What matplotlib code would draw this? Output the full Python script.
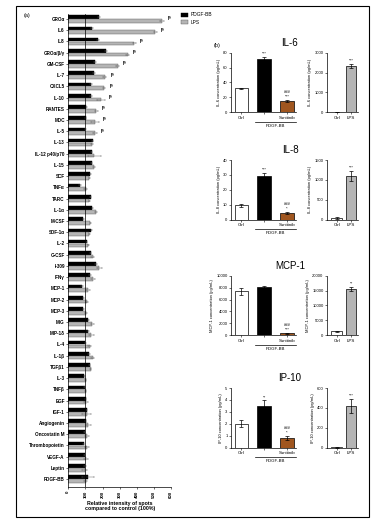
import matplotlib
matplotlib.use('Agg')

import matplotlib.pyplot as plt
import matplotlib.transforms as mtransforms
import numpy as np

plt.rcParams['font.family'] = ['Liberation Sans', 'DejaVu Sans']

# ---- panel (a) data ----
cytokines = ['GROα', 'IL6', 'IL8', 'GROα/β/γ', 'GM-CSF', 'IL-7', 'CXCL5', 'IL-10', 'RANTES', 'MDC',
             'IL-5', 'IL-13', 'IL-12 p40/p70', 'IL-15', 'SCF', 'TNFα', 'TARC', 'IL-1α', 'M-CSF', 'SDF-1α',
             'IL-2', 'G-CSF', 'I-309', 'IFNγ', 'MCP-1', 'MCP-2', 'MCP-3', 'MIG', 'MIP-1δ', 'IL-4',
             'IL-1β', 'TGFβ1', 'IL-3', 'TNFβ', 'EGF', 'IGF-1', 'Angiogenin', 'Oncostatin M', 'Thrombopoietin', 'VEGF-A',
             'Leptin', 'PDGF-BB']
pdgf_vals = [177, 139, 174, 222, 158, 150, 133, 134, 105, 101,
             99, 143, 137, 137, 128, 68, 132, 141, 88, 135,
             108, 130, 163, 126, 80, 86, 88, 118, 116, 99,
             122, 126, 93, 96, 103, 107, 103, 96, 90, 96,
             97, 114]
pdgf_err = [6, 8, 8, 5, 5, 5, 5, 5, 3, 3,
            3, 4, 4, 4, 3, 4, 3, 4, 3, 4,
            3, 5, 6, 4, 3, 3, 3, 4, 4, 3,
            4, 3, 3, 3, 3, 4, 3, 3, 3, 3,
            6, 34]
lps_vals = [548, 509, 386, 347, 288, 213, 209, 191, 164, 156,
            155, 138, 153, 150, 122, 101, 122, 160, 128, 122,
            117, 142, 180, 145, 116, 110, 106, 141, 135, 126,
            143, 130, 101, 101, 101, 107, 116, 110, 110, 103,
            97, 101]
lps_err = [10, 8, 10, 8, 8, 10, 8, 25, 10, 25,
           12, 5, 40, 8, 3, 8, 3, 6, 3, 3,
           3, 10, 15, 10, 10, 8, 6, 8, 15, 8,
           8, 5, 5, 5, 12, 25, 15, 10, 12, 12,
           15, 8]
n_marked = 11  # rows carrying the significance marks

# ---- panel (b) data ----
titles = ['IL-6', 'IL-8', 'MCP-1', 'IP-10']
groups = ['Ctrl', '', 'Sunitinib']
grp_vals = [[32, 71, 15], [9.5, 29.5, 4.5], [7400, 8100, 300], [2.0, 3.5, 0.8]]
grp_err = [[0.8, 3.5, 1.5], [0.8, 2.0, 0.6], [600, 150, 100], [0.3, 0.45, 0.18]]
grp_sig = [['', '***', '###\n***'], ['', '***', '###\n*'], ['', '', '###\n***'], ['', '**', '###\n*']]
lps_groups = ['Ctrl', 'LPS']
lps_vals_b = [[5, 2350], [40, 1100], [1300, 15500], [2, 420]]
lps_err_b = [[5, 100], [15, 130], [200, 800], [2, 70]]
lps_sig = [['', '***'], ['', '***'], ['', '**'], ['', '***']]
ylims = [80, 40, 10000, 5]
ysteps = [20, 10, 2000, 1]
lps_ylims = [3000, 1500, 20000, 600]
lps_ysteps = [1000, 500, 5000, 200]

W, H = 377, 522
fig = plt.figure(figsize=(W / 100, H / 100), dpi=100)


def rect(x0, y0, x1, y1):
    return [x0 / W, 1 - y1 / H, (x1 - x0) / W, (y1 - y0) / H]


# outer frame
fig.patches.append(plt.Rectangle((16 / W, 1 - 517 / H), 353 / W, 511 / H, transform=fig.transFigure,
                                 fill=False, lw=0.8, ec='black'))

# ---- panel (a) ----
ax = fig.add_axes(rect(68.3, 14, 171, 487))
y = np.arange(len(cytokines))
b1 = ax.barh(y - 0.17, pdgf_vals, height=0.33, color='black', edgecolor='black', lw=0.3,
             xerr=pdgf_err, error_kw=dict(lw=0.3, capsize=0.6, capthick=0.3, ecolor='#555'))
b2 = ax.barh(y + 0.17, lps_vals, height=0.33, color='#b5b5b5', edgecolor='#555555', lw=0.3,
             xerr=lps_err, error_kw=dict(lw=0.3, capsize=0.6, capthick=0.3, ecolor='#555'))
ax.axvline(100, color='black', lw=0.5)
for i in range(n_marked):
    xm = max(pdgf_vals[i] + pdgf_err[i], lps_vals[i] + lps_err[i]) + 22
    ax.text(xm, i - 0.05, '|§', fontsize=3.2, fontweight='bold', va='center', ha='left')
ax.set_yticks(y)
ax.set_yticklabels(cytokines, fontsize=3.3, fontweight='bold')
ax.set_ylim(41.7, -0.45)
ax.set_xlim(0, 600)
ax.set_xticks(range(0, 601, 100))
ax.set_xticklabels([str(v) for v in range(0, 601, 100)], rotation=90, fontsize=3.2, fontweight='bold')
ax.tick_params(length=1.5, width=0.4, pad=1)
for s in ['top', 'right']:
    ax.spines[s].set_visible(False)
for s in ['left', 'bottom']:
    ax.spines[s].set_linewidth(0.5)
ax.set_xlabel('Relative intensity of spots\ncompared to control (100%)', fontsize=3.8,
              fontweight='bold', labelpad=2, linespacing=1.2)

fig.legend([b1, b2], ['PDGF-BB', 'LPS'], loc='upper left', bbox_to_anchor=(179 / W, 1 - 10 / H),
           frameon=False, fontsize=3.5, handlelength=1.3, handleheight=0.8, labelspacing=0.5,
           handletextpad=0.5, borderpad=0)
fig.text(27 / W, 1 - 15 / H, '(a)', fontsize=4, va='center', ha='center')
fig.text(217 / W, 1 - 45 / H, '(b)', fontsize=4, va='center', ha='center')

# ---- panel (b) ----
row_tops = [52.7, 160, 275.7, 388]
colors3 = ['white', 'black', '#a0561f']
for r in range(4):
    top = row_tops[r]
    bot = top + 59.5
    fig.text(290 / W, 1 - (top - 10) / H, titles[r], fontsize=7, ha='center', va='center')

    axl = fig.add_axes(rect(231, top, 296, bot))
    xs = np.arange(3)
    axl.bar(xs, grp_vals[r], width=0.6, color=colors3, edgecolor='black', lw=0.5,
            yerr=grp_err[r], error_kw=dict(lw=0.5, capsize=1.2, capthick=0.5))
    for i in range(3):
        if grp_sig[r][i]:
            axl.text(xs[i], grp_vals[r][i] + grp_err[r][i] + ylims[r] * 0.02, grp_sig[r][i],
                     fontsize=3, ha='center', va='bottom', linespacing=1.3)
    axl.set_xlim(-0.46, 2.4)
    axl.set_ylim(0, ylims[r])
    axl.set_yticks(np.arange(0, ylims[r] + ysteps[r] * 0.5, ysteps[r]))
    axl.set_xticks(xs)
    axl.set_xticklabels(groups, fontsize=3.2)
    axl.set_ylabel(titles[r] + ' concentration (pg/mL)', fontsize=2.9, labelpad=1.5)
    axl.tick_params(axis='y', labelsize=3, length=1.5, width=0.4, pad=1)
    axl.tick_params(axis='x', length=1.5, width=0.4, pad=1)
    trans = mtransforms.blended_transform_factory(axl.transData, axl.transAxes)
    axl.plot([0.6, 2.4], [-0.16, -0.16], transform=trans, color='black', lw=0.5, clip_on=False)
    axl.text(1.5, -0.19, 'PDGF-BB', transform=trans, fontsize=3.2, ha='center', va='top')

    axr = fig.add_axes(rect(327, top, 358, bot))
    xs2 = np.arange(2)
    axr.bar(xs2, lps_vals_b[r], width=0.72, color=['white', '#b5b5b5'], edgecolor='black', lw=0.5,
            yerr=lps_err_b[r], error_kw=dict(lw=0.5, capsize=1.2, capthick=0.5))
    for i in range(2):
        if lps_sig[r][i]:
            axr.text(xs2[i], lps_vals_b[r][i] + lps_err_b[r][i] + lps_ylims[r] * 0.02, lps_sig[r][i],
                     fontsize=3, ha='center', va='bottom')
    axr.set_xlim(-0.67, 1.47)
    axr.set_ylim(0, lps_ylims[r])
    axr.set_yticks(np.arange(0, lps_ylims[r] + lps_ysteps[r] * 0.5, lps_ysteps[r]))
    axr.set_xticks(xs2)
    axr.set_xticklabels(lps_groups, fontsize=3.2)
    axr.set_ylabel(titles[r] + ' concentration (pg/mL)', fontsize=2.9, labelpad=1.5)
    axr.tick_params(axis='y', labelsize=3, length=1.5, width=0.4, pad=1)
    axr.tick_params(axis='x', length=1.5, width=0.4, pad=1)

    for a in (axl, axr):
        for s in ['top', 'right']:
            a.spines[s].set_visible(False)
        for s in ['left', 'bottom']:
            a.spines[s].set_linewidth(0.5)

fig.savefig('out.png', dpi=100)
